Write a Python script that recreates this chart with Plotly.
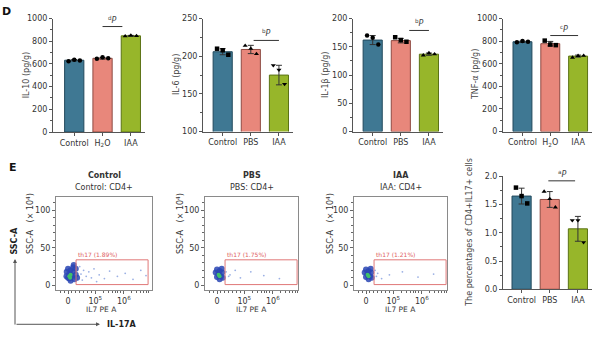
import plotly.graph_objects as go

W, H = 600, 340
FONT = "DejaVu Sans"

# ---------------- data ----------------
cats_h2o = ["Control", "H<sub>2</sub>O", "IAA"]
cats_pbs = ["Control", "PBS", "IAA"]

il10_mean = [633, 650, 848]
il10_sd = [6, 8, 4]
il10_pts = [[625, 637, 630], [645, 660, 650], [845, 852, 847]]

il6_mean = [206, 209, 175]
il6_sd = [4, 5.5, 13]
il6_pts = [[210, 208, 202], [214, 210, 203], [188, 182, 163]]

il1b_mean = [162, 161, 137]
il1b_sd = [8, 4, 2]
il1b_pts = [[170, 166, 154], [167, 162, 159], [135, 139, 137]]

tnf_mean = [795, 778, 668]
tnf_sd = [6, 20, 9]
tnf_pts = [[790, 802, 795], [805, 770, 765], [655, 670, 672]]

pct_mean = [1.65, 1.59, 1.07]
pct_sd = [0.14, 0.14, 0.22]
pct_pts = [[1.80, 1.65, 1.52], [1.73, 1.60, 1.45], [1.22, 1.22, 0.83]]

flow_groups = ["Control", "PBS", "IAA"]
flow_gate_pct = ["1.89%", "1.75%", "1.21%"]
gate_x = [0.31, 3.08]
gate_y = [1, 34]

# dense population (dark blue) per panel
flow_core_x = [
    [0.0, 0.05, 0.1, 0.15, 0.2, 0.25, 0.3, -0.05, 0.1, 0.2, 0.0, 0.3, 0.35, 0.12, 0.05, 0.22, -0.06],
    [0.0, 0.05, 0.1, 0.15, 0.2, -0.05, 0.1, 0.0, 0.18, 0.08, 0.22],
    [0.0, 0.05, 0.1, 0.15, 0.2, -0.05, 0.1, 0.0, 0.18, 0.08, 0.22],
]
flow_core_y = [
    [10, 15, 20, 12, 18, 8, 14, 18, 6, 24, 22, 22, 10, 13, 9, 27, 12],
    [11, 15, 19, 12, 17, 17, 8, 21, 22, 13, 10],
    [11, 15, 19, 12, 17, 17, 8, 21, 22, 13, 10],
]
# inner high-density (green)
flow_hot_x = [[0.05, 0.1, 0.08], [0.06, 0.1], [0.06, 0.1]]
flow_hot_y = [[12, 14, 10], [14, 12], [14, 12]]
# sparse events
flow_sparse_x = [
    [0.45, 0.5, 0.55, 0.6, 0.7, 0.8, 0.9, 1.0, 1.1, 1.2, 1.4, 1.6, 1.9, 2.2, 2.5, 2.8, 3.0],
    [0.35, 0.45, 0.5, 0.7, 0.9, 1.3, 1.8, 2.4],
    [0.35, 0.4, 0.45, 0.6, 0.9, 1.4, 2.0, 2.6],
]
flow_sparse_y = [
    [25, 15, 7, 20, 12, 18, 10, 22, 5, 14, 9, 19, 12, 16, 8, 20, 13],
    [18, 12, 14, 20, 10, 18, 13, 9],
    [20, 12, 16, 9, 14, 18, 11, 15],
]

bar_colors = ["#3f7893", "#e8877b", "#97b62a"]
edge_colors = ["#22495c", "#8e4a42", "#5b7315"]
AX = "#555555"


def px(x):
    return x / W


def py(y):
    return 1 - y / H


fig = go.Figure()
layout = dict(
    width=W, height=H, margin=dict(l=0, r=0, t=0, b=0),
    paper_bgcolor="white", plot_bgcolor="white", showlegend=False,
    font=dict(family=FONT, size=8, color="#333"),
)
annotations = []
shapes = []


def ann(x, y, text, size=8, angle=0, bold=False, color="#333", xanchor="center", yanchor="middle", **kw):
    if bold:
        text = "<b>" + text + "</b>"
    d = dict(x=px(x), y=py(y), xref="paper", yref="paper", text=text, showarrow=False,
             font=dict(family=FONT, size=size, color=color), textangle=angle,
             xanchor=xanchor, yanchor=yanchor)
    d.update(kw)
    annotations.append(d)


def bar_panel(idx, xdom, ydom, yrange, dtick, minor, means, sds, pts, cats, symbols,
              ylabel, ylabel_x, sig_x, sig_y, sig_txt, tickfmt=None, left_units=0.7):
    xa = "x" if idx == 1 else f"x{idx}"
    ya = "y" if idx == 1 else f"y{idx}"
    for i in range(3):
        fig.add_trace(go.Bar(
            x=[i], y=[means[i]], width=0.68, xaxis=xa, yaxis=ya,
            marker=dict(color=bar_colors[i], line=dict(color=edge_colors[i], width=1)),
            error_y=dict(type="data", array=[sds[i]], color="#333", thickness=1, width=3),
        ))
        fig.add_trace(go.Scatter(
            x=[i - 0.2, i, i + 0.2], y=pts[i], mode="markers", xaxis=xa, yaxis=ya,
            marker=dict(symbol=symbols[i], size=4.5, color="black"), cliponaxis=False,
        ))
    layout[("xaxis" if idx == 1 else f"xaxis{idx}")] = dict(
        domain=[px(xdom[0]), px(xdom[1])], range=[-left_units, 2.5], anchor=ya,
        showline=True, linecolor=AX, linewidth=1, ticks="outside", ticklen=3, tickcolor=AX,
        tickvals=[0, 1, 2], ticktext=cats, showgrid=False, zeroline=False,
        tickfont=dict(family=FONT, size=8, color="#333"),
    )
    yd = dict(
        domain=[py(ydom[1]), py(ydom[0])], range=yrange, anchor=xa,
        showline=True, linecolor=AX, linewidth=1, ticks="outside", ticklen=3, tickcolor=AX,
        dtick=dtick, tick0=yrange[0], showgrid=False, zeroline=False,
        tickfont=dict(family=FONT, size=8, color="#333"),
        minor=dict(ticks="outside", ticklen=2, dtick=minor, tickcolor=AX),
    )
    if tickfmt:
        yd["tickformat"] = tickfmt
    layout[("yaxis" if idx == 1 else f"yaxis{idx}")] = yd
    shapes.append(dict(type="line", xref=xa, yref=ya, x0=sig_x[0], x1=sig_x[1], y0=sig_y, y1=sig_y,
                       line=dict(color="#333", width=1)))
    annotations.append(dict(x=(sig_x[0] + sig_x[1]) / 2, y=sig_y, xref=xa, yref=ya,
                            text=sig_txt, showarrow=False, yanchor="bottom", yshift=0,
                            font=dict(family=FONT, size=8, color="#444")))
    ann(ylabel_x, (ydom[0] + ydom[1]) / 2, ylabel, size=8, angle=-90, color="#444")


sym_c = ["circle", "circle", "triangle-up"]
sym_s = ["square", "triangle-up", "triangle-down"]

bar_panel(1, (53, 145), (15, 131.5), [0, 1000], 200, 100, il10_mean, il10_sd, il10_pts, cats_h2o,
          sym_c, "IL-10 (pg/g)", 26, (1.0, 1.7), 930, "<sup>d</sup><i>P</i>", left_units=0.75)
bar_panel(2, (203, 293), (15, 131), [100, 250], 50, 25, il6_mean, il6_sd, il6_pts, cats_pbs,
          sym_s, "IL-6 (pg/g)", 176, (1.1, 2.0), 221, "<sup>b</sup><i>P</i>")
bar_panel(3, (353, 443), (15, 131), [0, 200], 50, 25, il1b_mean, il1b_sd, il1b_pts, cats_pbs,
          ["circle", "square", "triangle-up"], "IL-1β (pg/g)", 325, (1.3, 2.0), 179,
          "<sup>b</sup><i>P</i>")
bar_panel(4, (503, 592), (15, 131), [0, 1000], 200, 100, tnf_mean, tnf_sd, tnf_pts, cats_h2o,
          ["circle", "square", "triangle-up"], "TNF-α (pg/g)", 475, (1.0, 2.0), 850,
          "<sup>c</sup><i>P</i>")
bar_panel(8, (503, 592), (177, 293), [0, 2.0], 0.5, 0.25, pct_mean, pct_sd, pct_pts, cats_pbs,
          sym_s, "The percentages of CD4+IL17+ cells", 470, (0.95, 1.9), 1.92,
          "<sup>a</sup><i>P</i>", tickfmt=".1f", left_units=0.66)

# ---------------- flow panels ----------------
flow_boxes = [(56, 152), (205, 298), (354, 447)]
flow_ylab_x = [30, 180, 330]
for k in range(3):
    idx = 5 + k
    xa, ya = f"x{idx}", f"y{idx}"
    x0, x1 = flow_boxes[k]
    zero_px = x0 + 12
    left = -(zero_px - x0) / 26.0
    right = (x1 - zero_px) / 26.0
    fig.add_trace(go.Scatter(x=flow_sparse_x[k], y=flow_sparse_y[k], mode="markers", xaxis=xa, yaxis=ya,
                             marker=dict(size=1.8, color="#9bb0e4")))
    fig.add_trace(go.Scatter(x=flow_core_x[k], y=flow_core_y[k], mode="markers", xaxis=xa, yaxis=ya,
                             marker=dict(size=6, color="#2a46b4", opacity=0.85)))
    fig.add_trace(go.Scatter(x=flow_hot_x[k], y=flow_hot_y[k], mode="markers", xaxis=xa, yaxis=ya,
                             marker=dict(size=4, color="#3fbf6a")))
    layout[f"xaxis{idx}"] = dict(
        domain=[px(x0), px(x1)], range=[left, right], anchor=ya,
        showline=True, mirror=True, linecolor="#8a8a8a", linewidth=1,
        ticks="outside", ticklen=3, tickcolor="#666", showgrid=False, zeroline=False,
        tickvals=[0, 1.05, 2.15], ticktext=["0", "10<sup>5</sup>", "10<sup>6</sup>"],
        tickfont=dict(family=FONT, size=8, color="#333"),
        minor=dict(ticks="outside", ticklen=2, tickcolor="#666",
                   tickvals=[-0.3, -0.15, 0.15, 0.3, 0.45, 0.6, 0.75, 0.9, 1.35, 1.55, 1.7, 1.82, 1.92, 2.0,
                             2.45, 2.65, 2.8, 2.9, 3.0, 3.08]),
    )
    layout[f"yaxis{idx}"] = dict(
        domain=[py(294), py(198)], range=[-6.5, 118], anchor=xa,
        showline=True, mirror=True, linecolor="#8a8a8a", linewidth=1,
        ticks="outside", ticklen=3, tickcolor="#666", showgrid=False, zeroline=False,
        tickvals=[0, 50, 100], tickfont=dict(family=FONT, size=8, color="#333"),
        minor=dict(ticks="outside", ticklen=2, dtick=10, tickcolor="#666"),
    )
    shapes.append(dict(type="rect", xref=xa, yref=ya, x0=gate_x[0], x1=gate_x[1], y0=gate_y[0], y1=gate_y[1],
                       line=dict(color="#e07878", width=1)))
    annotations.append(dict(x=gate_x[0], y=gate_y[1], xref=xa, yref=ya, showarrow=False,
                            text=f"th17 ({flow_gate_pct[k]})", xanchor="left", yanchor="bottom",
                            font=dict(family=FONT, size=6, color="#e06060")))
    cx = (x0 + x1) / 2
    ann(cx, 176, flow_groups[k], size=8, bold=True)
    ann(cx, 189, f"{flow_groups[k]}: CD4+", size=8)
    ann(cx - 3 if k == 0 else cx, 314, "IL7 PE A", size=7.5)
    ann(flow_ylab_x[k], 226, "SSC-A   (× 10<sup>4</sup>)", size=8, angle=-90)

# panel letters
ann(6, 8, "D", size=11, bold=True, color="#111")
ann(13, 168, "E", size=11, bold=True, color="#111")

# orientation arrows
annotations.append(dict(x=px(15), y=py(262), xref="paper", yref="paper", ax=0, ay=67,
                        axref="pixel", ayref="pixel", showarrow=True, arrowhead=2, arrowsize=0.8,
                        arrowwidth=1, arrowcolor="#555", text=""))
annotations.append(dict(x=px(100), y=py(329), xref="paper", yref="paper", ax=-85, ay=0,
                        axref="pixel", ayref="pixel", showarrow=True, arrowhead=2, arrowsize=0.8,
                        arrowwidth=1, arrowcolor="#555", text=""))
ann(15, 243, "SSC-A", size=8, bold=True, angle=-90, color="#222")
ann(105, 329, "IL-17A", size=8, bold=True, color="#222", xanchor="left")

layout["annotations"] = annotations
layout["shapes"] = shapes
fig.update_layout(**layout)
fig.write_html("out.html")
